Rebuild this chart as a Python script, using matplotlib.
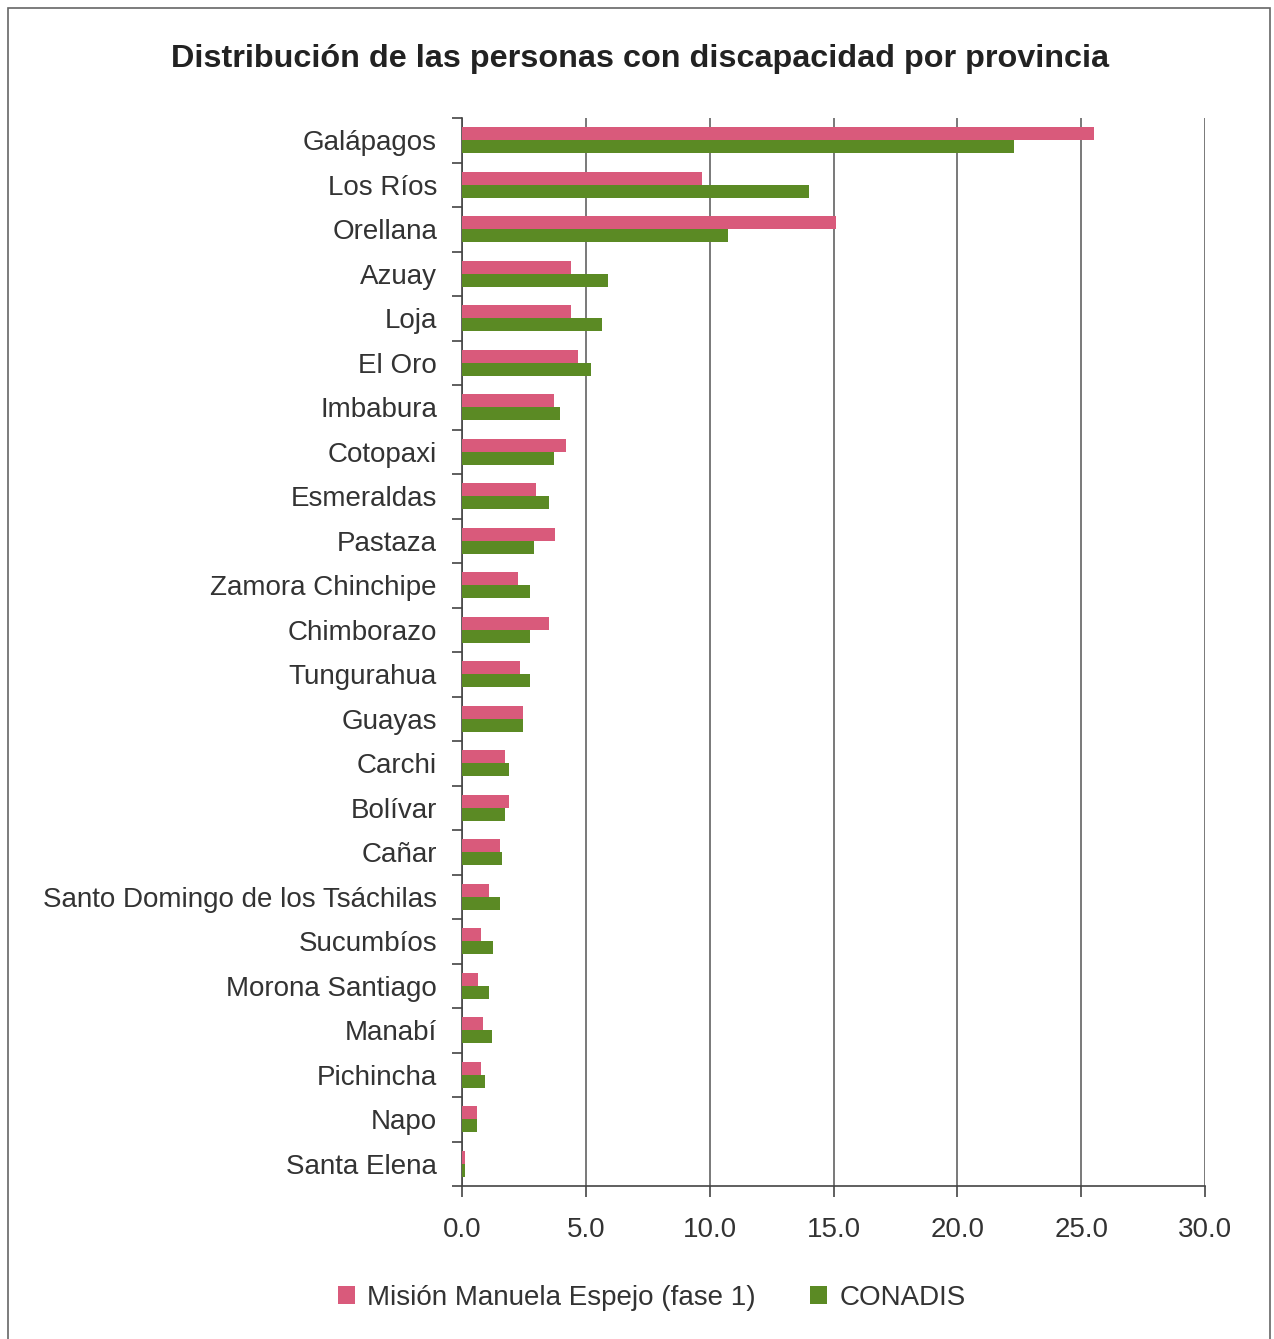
import numpy as np
import matplotlib.pyplot as plt
from matplotlib.patches import Rectangle

plt.rcParams['font.family'] = ['Liberation Sans', 'DejaVu Sans']

# Datos (porcentaje)
provincias = ['Galápagos', 'Los Ríos', 'Orellana', 'Azuay', 'Loja', 'El Oro',
              'Imbabura', 'Cotopaxi', 'Esmeraldas', 'Pastaza', 'Zamora Chinchipe',
              'Chimborazo', 'Tungurahua', 'Guayas', 'Carchi', 'Bolívar', 'Cañar',
              'Santo Domingo de los Tsáchilas', 'Sucumbíos', 'Morona Santiago',
              'Manabí', 'Pichincha', 'Napo', 'Santa Elena']
mision = [25.5, 9.7, 15.1, 4.4, 4.4, 4.7, 3.7, 4.2, 3.0, 3.75, 2.27, 3.5, 2.36,
          2.47, 1.73, 1.9, 1.53, 1.1, 0.76, 0.66, 0.86, 0.76, 0.62, 0.13]
conadis = [22.3, 14.0, 10.75, 5.9, 5.65, 5.2, 3.94, 3.7, 3.53, 2.9, 2.73, 2.73,
           2.73, 2.45, 1.89, 1.72, 1.61, 1.53, 1.25, 1.09, 1.22, 0.94, 0.6, 0.11]
xticks = [0, 5, 10, 15, 20, 25, 30]

col_mision = '#d95a7b'
col_conadis = '#5b8a24'
texto = '#333333'

fig = plt.figure(figsize=(12.74, 13.39), dpi=100)

# Marco exterior
fig.patches.append(Rectangle((8/1274, -0.05), 1262/1274, 1.05 - 8/1339,
                             transform=fig.transFigure, fill=False,
                             edgecolor='#666666', linewidth=1.2))

ax = fig.add_axes([462/1274, 1 - 1186/1339, 743/1274, 1068/1339])

y = np.arange(len(provincias))
h = 0.29
ax.barh(y - h/2, mision, height=h, color=col_mision, zorder=3,
        label='Misión Manuela Espejo (fase 1)')
ax.barh(y + h/2, conadis, height=h, color=col_conadis, zorder=3,
        label='CONADIS')

ax.set_ylim(len(provincias) - 0.5, -0.5)
ax.set_xlim(0, 30)

ax.set_yticks(y)
ax.set_yticklabels(provincias, fontsize=20, color=texto)
ax.set_yticks(np.arange(-0.5, len(provincias)), minor=True)
ax.tick_params(axis='y', which='major', length=0, pad=18)
ax.tick_params(axis='y', which='minor', length=7, width=1.2, color='#444444')

ax.set_xticks(xticks)
ax.set_xticklabels([f'{v:.1f}' for v in xticks], fontsize=20, color=texto)
ax.tick_params(axis='x', length=8, width=1.2, color='#444444', pad=14)

ax.grid(axis='x', color='#555555', linewidth=1.1, zorder=0)
ax.grid(axis='y', visible=False)
for s in ['top', 'right']:
    ax.spines[s].set_visible(False)
for s in ['left', 'bottom']:
    ax.spines[s].set_color('#444444')
    ax.spines[s].set_linewidth(1.2)

fig.text(640/1274, 1 - 59/1339,
         'Distribución de las personas con discapacidad por provincia',
         ha='center', va='center', fontsize=23.3, fontweight='bold', color='#222222')

fig.legend(loc='center', bbox_to_anchor=(652/1274, 1 - 1298/1339), ncol=2,
           frameon=False, fontsize=20, handlelength=0.6, handleheight=0.6,
           handletextpad=0.45, columnspacing=1.95, labelcolor=texto)

plt.savefig('out.png', dpi=100)
